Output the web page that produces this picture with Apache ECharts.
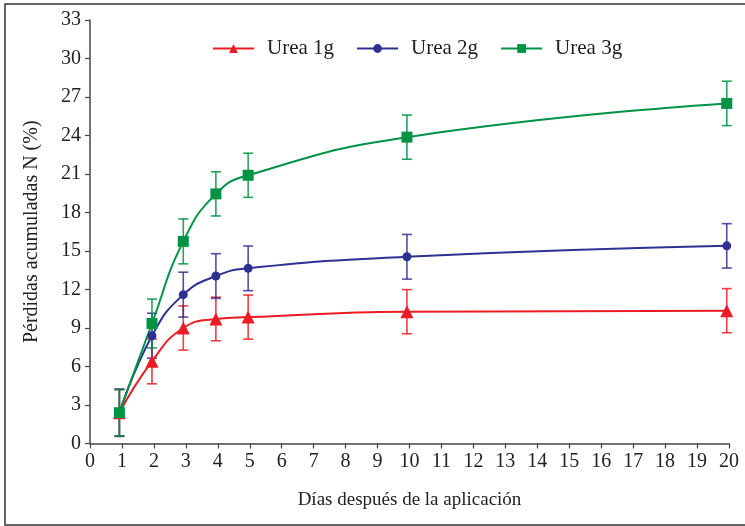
<!DOCTYPE html>
<html>
<head>
<meta charset="utf-8">
<script src="https://cdn.jsdelivr.net/npm/echarts@6/dist/echarts.min.js"></script>
<style>html,body{margin:0;padding:0;background:#fff;}#c{width:745px;height:526px;}</style>
</head>
<body>
<div id="c"></div>
<script>
// Data
var days = [0.92, 1.94, 2.92, 3.94, 4.95, 9.92, 19.93];
var urea1 = [2.4, 6.4, 9.0, 9.7, 9.85, 10.27, 10.35];
var urea1Err = [1.8, 1.75, 1.72, 1.7, 1.72, 1.72, 1.72];
var urea2 = [2.4, 8.4, 11.6, 13.05, 13.65, 14.55, 15.4];
var urea2Err = [1.85, 1.75, 1.75, 1.74, 1.74, 1.74, 1.73];
var urea3 = [2.4, 9.35, 15.75, 19.45, 20.9, 23.87, 26.5];
var urea3Err = [1.8, 1.9, 1.75, 1.72, 1.72, 1.72, 1.73];
var seriesNames = ['Urea 1g', 'Urea 2g', 'Urea 3g'];
var colors = ['#ED1C24', '#2E3192', '#009245'];
var xTicks = {min: 0, max: 20, interval: 1};
var yTicks = {min: 0, max: 33, interval: 3};

var font = '"Liberation Serif", "Times New Roman", serif';
var chart = echarts.init(document.getElementById('c'), null, {renderer: 'canvas'});

function pairs(xs, ys) { return xs.map(function (x, i) { return [x, ys[i]]; }); }
function errData(xs, ys, es) { return xs.map(function (x, i) { return [x, ys[i] - es[i], ys[i] + es[i]]; }); }

function errSeries(name, color, data) {
  return {
    name: name + ' error',
    type: 'custom',
    z: 1,
    silent: true,
    data: data,
    itemStyle: {color: color},
    encode: {x: 0, y: [1, 2]},
    renderItem: function (params, api) {
      var x = api.value(0);
      var lo = api.coord([x, api.value(1)]);
      var hi = api.coord([x, api.value(2)]);
      var w = 5;
      var st = {stroke: color, lineWidth: 1.6, opacity: 0.85};
      return {
        type: 'group',
        children: [
          {type: 'line', shape: {x1: lo[0], y1: lo[1], x2: hi[0], y2: hi[1]}, style: st},
          {type: 'line', shape: {x1: lo[0] - w, y1: lo[1], x2: lo[0] + w, y2: lo[1]}, style: st},
          {type: 'line', shape: {x1: hi[0] - w, y1: hi[1], x2: hi[0] + w, y2: hi[1]}, style: st}
        ]
      };
    }
  };
}

function lineSeries(name, color, data, symbol, size) {
  return {
    name: name,
    type: 'line',
    z: 3,
    smooth: 0.5,
    data: data,
    symbol: symbol,
    symbolSize: size,
    showAllSymbol: true,
    color: color,
    lineStyle: {color: color, width: 2},
    itemStyle: {color: color},
    emphasis: {disabled: true}
  };
}

var option = {
  animation: false,
  backgroundColor: '#fff',
  textStyle: {fontFamily: font},
  graphic: [{
    type: 'rect',
    shape: {x: 5, y: 4, width: 760, height: 521},
    style: {fill: 'none', stroke: '#333', lineWidth: 1.5},
    silent: true
  }],
  legend: {
    data: seriesNames,
    top: 33,
    left: 207,
    itemWidth: 41,
    itemHeight: 11,
    itemGap: 22,
    selectedMode: false,
    textStyle: {fontFamily: font, fontSize: 21, color: '#222', padding: [0, 0, 0, 8]}
  },
  grid: {left: 90, right: 16, top: 20, bottom: 82.5, containLabel: false},
  xAxis: {
    type: 'value',
    min: xTicks.min, max: xTicks.max, interval: xTicks.interval,
    name: 'Días después de la aplicación',
    nameLocation: 'middle',
    nameGap: 47,
    nameTextStyle: {fontFamily: font, fontSize: 19, color: '#222'},
    axisLine: {show: true, lineStyle: {color: '#444', width: 1.5}},
    axisTick: {show: true, length: 5, lineStyle: {color: '#444', width: 1.2}},
    axisLabel: {fontFamily: font, fontSize: 20, color: '#222', margin: 8},
    splitLine: {show: false}
  },
  yAxis: {
    type: 'value',
    min: yTicks.min, max: yTicks.max, interval: yTicks.interval,
    name: 'Pérdidas acumuladas N (%)',
    nameLocation: 'middle',
    nameGap: 48,
    nameRotate: 90,
    nameTextStyle: {fontFamily: font, fontSize: 20, color: '#222'},
    axisLine: {show: true, lineStyle: {color: '#444', width: 1.5}},
    axisTick: {show: true, length: 5, lineStyle: {color: '#444', width: 1.2}},
    axisLabel: {fontFamily: font, fontSize: 20, color: '#222', margin: 9},
    splitLine: {show: false}
  },
  series: [
    errSeries('Urea 1g', colors[0], errData(days, urea1, urea1Err)),
    errSeries('Urea 2g', colors[1], errData(days, urea2, urea2Err)),
    errSeries('Urea 3g', colors[2], errData(days, urea3, urea3Err)),
    lineSeries('Urea 1g', colors[0], pairs(days, urea1), 'triangle', 13),
    lineSeries('Urea 2g', colors[1], pairs(days, urea2), 'circle', 9),
    lineSeries('Urea 3g', colors[2], pairs(days, urea3), 'rect', 11)
  ]
};
chart.setOption(option);
</script>
</body>
</html>
